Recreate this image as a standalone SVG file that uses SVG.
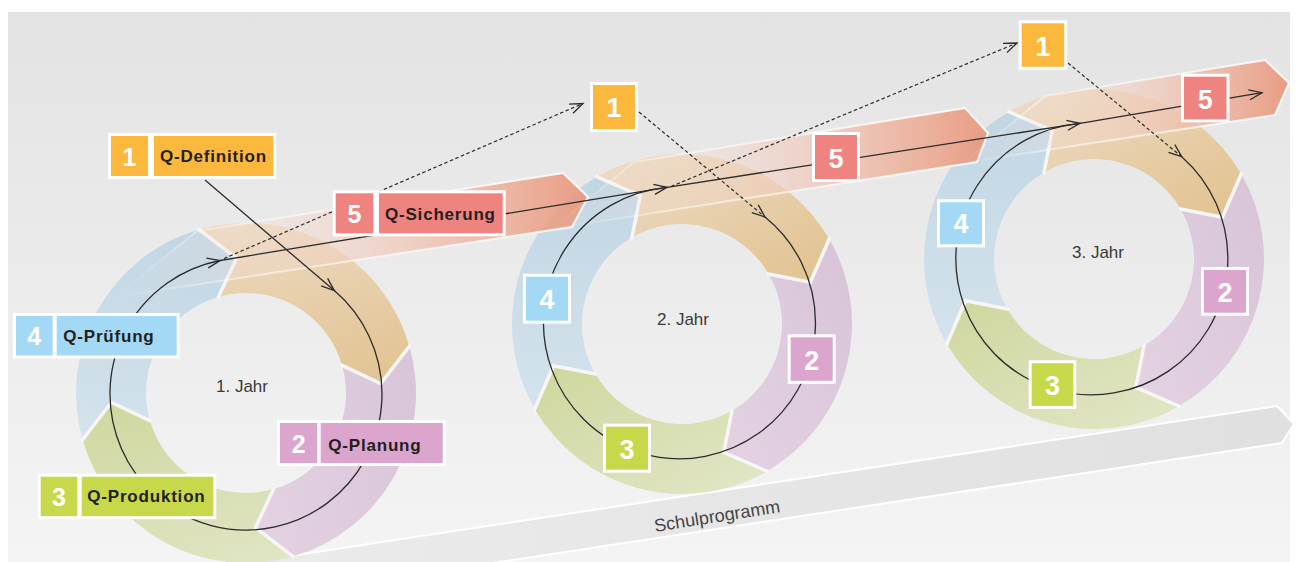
<svg xmlns="http://www.w3.org/2000/svg" xmlns:xlink="http://www.w3.org/1999/xlink" width="1296" height="562" viewBox="0 0 1296 562">
<defs>
<style>
.box{stroke:#ffffff;stroke-width:3}
.y{fill:#fbb83c}.r{fill:#ef837f}.b{fill:#a3d9f5}.p{fill:#dba5cd}.g{fill:#c8d84b}
.lab{font-family:"Liberation Sans",Arial,Helvetica,sans-serif;font-weight:bold;font-size:17px;letter-spacing:0.8px;fill:#231f20}
.dg{font-family:"Liberation Sans",Arial,Helvetica,sans-serif;font-weight:bold;font-size:25px;fill:#ffffff;text-anchor:middle}
.dgb{font-family:"Liberation Sans",Arial,Helvetica,sans-serif;font-weight:bold;font-size:27px;fill:#ffffff;text-anchor:middle}
.yr{font-family:"Liberation Sans",Arial,Helvetica,sans-serif;font-size:17px;fill:#3a3a3a;text-anchor:middle}
.sep{fill:none;stroke:#f6f6f6;stroke-width:3.5;stroke-linecap:square;stroke-linejoin:miter}
.band{stroke-width:2}
</style>
<linearGradient id="bg" x1="0" y1="0" x2="0" y2="1"><stop offset="0" stop-color="#e3e3e3"/><stop offset="1" stop-color="#f4f4f4"/></linearGradient>
<linearGradient id="gO" x1="0" y1="0" x2="1" y2="1"><stop offset="0" stop-color="#ecdcc8"/><stop offset="1" stop-color="#e2c28e"/></linearGradient>
<linearGradient id="gP" x1="1" y1="0" x2="0" y2="1"><stop offset="0" stop-color="#d8c3d7"/><stop offset="1" stop-color="#e4d3e3"/></linearGradient>
<linearGradient id="gG" x1="0" y1="0" x2="1" y2="1"><stop offset="0" stop-color="#cfd79e"/><stop offset="1" stop-color="#e2e6c7"/></linearGradient>
<linearGradient id="gB" x1="0" y1="1" x2="0" y2="0"><stop offset="0" stop-color="#d4e3ec"/><stop offset="1" stop-color="#c1d6e4"/></linearGradient>
<linearGradient id="gS" gradientUnits="userSpaceOnUse" x1="200" y1="0" x2="1294" y2="0"><stop offset="0" stop-color="#ececec"/><stop offset="1" stop-color="#e0e0e0"/></linearGradient>
<linearGradient id="gR1" gradientUnits="userSpaceOnUse" x1="115" y1="0" x2="588" y2="0"><stop offset="0" stop-color="#f6e6e0" stop-opacity="0"/><stop offset="0.3" stop-color="#f4ddd4" stop-opacity="0.3"/><stop offset="0.62" stop-color="#f0c6b6" stop-opacity="0.75"/><stop offset="1" stop-color="#e9967b" stop-opacity="0.92"/></linearGradient>
<linearGradient id="gR2" gradientUnits="userSpaceOnUse" x1="552" y1="0" x2="988" y2="0"><stop offset="0" stop-color="#f6e6e0" stop-opacity="0"/><stop offset="0.3" stop-color="#f4ddd4" stop-opacity="0.3"/><stop offset="0.62" stop-color="#f0c6b6" stop-opacity="0.75"/><stop offset="1" stop-color="#e9967b" stop-opacity="0.92"/></linearGradient>
<linearGradient id="gR3" gradientUnits="userSpaceOnUse" x1="963" y1="0" x2="1289" y2="0"><stop offset="0" stop-color="#f6e6e0" stop-opacity="0"/><stop offset="0.3" stop-color="#f4ddd4" stop-opacity="0.3"/><stop offset="0.62" stop-color="#f0c6b6" stop-opacity="0.75"/><stop offset="1" stop-color="#e9967b" stop-opacity="0.92"/></linearGradient>
<linearGradient id="gW1" gradientUnits="userSpaceOnUse" x1="115" y1="0" x2="588" y2="0"><stop offset="0" stop-color="#ffffff" stop-opacity="0"/><stop offset="0.25" stop-color="#ffffff" stop-opacity="0.45"/><stop offset="1" stop-color="#ffffff" stop-opacity="0.9"/></linearGradient>
<linearGradient id="gW2" gradientUnits="userSpaceOnUse" x1="552" y1="0" x2="988" y2="0"><stop offset="0" stop-color="#ffffff" stop-opacity="0"/><stop offset="0.25" stop-color="#ffffff" stop-opacity="0.45"/><stop offset="1" stop-color="#ffffff" stop-opacity="0.9"/></linearGradient>
<linearGradient id="gW3" gradientUnits="userSpaceOnUse" x1="963" y1="0" x2="1289" y2="0"><stop offset="0" stop-color="#ffffff" stop-opacity="0"/><stop offset="0.25" stop-color="#ffffff" stop-opacity="0.45"/><stop offset="1" stop-color="#ffffff" stop-opacity="0.9"/></linearGradient>
<marker id="ah" viewBox="-15 -8 17 16" refX="0" refY="0" markerWidth="17" markerHeight="16" markerUnits="userSpaceOnUse" orient="auto" overflow="visible">
<path d="M-13,-5 L0,0 L-13,5" fill="none" stroke="#2b2b2b" stroke-width="1.3" stroke-dasharray="none"/>
</marker>
<g id="ring">
<path fill="url(#gO)" d="M-85,-147.22 A170,170 0 0 1 147.22,-85 L128.39,-41.72 L86.6,-50 A100,100 0 0 0 -50,-86.6 L-41.72,-128.39 Z"/>
<path fill="url(#gP)" d="M147.22,-85 A170,170 0 0 1 85,147.22 L41.72,128.39 L50,86.6 A100,100 0 0 0 86.6,-50 L128.39,-41.72 Z"/>
<path fill="url(#gG)" d="M85,147.22 A170,170 0 0 1 -147.22,85 L-128.39,41.72 L-86.6,50 A100,100 0 0 0 50,86.6 L41.72,128.39 Z"/>
<path fill="url(#gB)" d="M-147.22,85 A170,170 0 0 1 -85,-147.22 L-41.72,-128.39 L-50,-86.6 A100,100 0 0 0 -86.6,50 L-128.39,41.72 Z"/>
<path class="sep" d="M-85,-147.22 L-41.72,-128.39 L-50,-86.6 M147.22,-85 L128.39,-41.72 L86.6,-50 M85,147.22 L41.72,128.39 L50,86.6 M-147.22,85 L-128.39,41.72 L-86.6,50"/>
</g>
</defs>

<rect x="0" y="0" width="1296" height="562" fill="#ffffff"/>
<rect id="panel" x="8" y="12" width="1282" height="550" fill="url(#bg)"/>

<g id="schulprogramm">
<polygon points="198,570 1277,406 1294,424 1282,443 440,571" fill="url(#gS)" stroke="#ffffff" stroke-width="2"/>
<text transform="translate(718,522) rotate(-9)" x="0" y="0" text-anchor="middle" style="font-family:'Liberation Sans',Arial,sans-serif;font-size:18px;fill:#444444">Schulprogramm</text>
</g>

<g id="jahr1">
<use xlink:href="#ring" href="#ring" transform="translate(246,393) rotate(14)"/>
<text class="yr" x="242" y="392">1. Jahr</text>
</g>
<g id="jahr2">
<use xlink:href="#ring" href="#ring" transform="translate(682,324)"/>
<text class="yr" x="683" y="325">2. Jahr</text>
</g>
<g id="jahr3">
<use xlink:href="#ring" href="#ring" transform="translate(1094,259)"/>
<text class="yr" x="1098" y="258">3. Jahr</text>
</g>

<g id="band1"><polygon class="band" fill="url(#gR1)" stroke="url(#gW1)" points="197,231 563,173 588,197 572,227 115,297"/></g>
<g id="band2"><polygon class="band" fill="url(#gR2)" stroke="url(#gW2)" points="634,162 965,108 988,133 977,162 552,229"/></g>
<g id="band3"><polygon class="band" fill="url(#gR3)" stroke="url(#gW3)" points="1045,96 1265,60 1289,83 1275,115 963,163"/></g>

<g id="connectors" fill="none" stroke="#2b2b2b" stroke-width="1.3">
<path d="M205,180 L334.3,290.6" marker-end="url(#ah)"/>
<path d="M334.3,290.6 A136,136 0 1 1 220.1,260.5" marker-end="url(#ah)"/>
<path d="M220.1,260.5 L667,187.3" marker-end="url(#ah)"/>
<path d="M765,217 A136,136 0 1 1 667,187.3"/>
<path d="M667,187.3 L1080,123.3" marker-end="url(#ah)"/>
<path d="M1181.7,156.7 A136,136 0 1 1 1080,123.3"/>
<path d="M1080,123.3 L1262,92.7" marker-end="url(#ah)"/>
<g stroke-dasharray="3.5 2.5" stroke-width="1.2">
<path d="M224,258.5 L583,103.5" marker-end="url(#ah)"/>
<path d="M639,112 L765,217" marker-end="url(#ah)"/>
<path d="M671,186.5 L1017,43" marker-end="url(#ah)"/>
<path d="M1068,63 L1181.7,156.7" marker-end="url(#ah)"/>
</g>
</g>

<g id="q-definition">
<rect class="box y" x="109.5" y="134.5" width="40" height="43"/>
<text class="dg" x="129.5" y="165.5">1</text>
<rect class="box y" x="152.5" y="134.5" width="122.3" height="43"/>
<text class="lab" x="160" y="162">Q-Definition</text>
</g>
<g id="q-sicherung">
<rect class="box r" x="334.2" y="191.8" width="40.6" height="43"/>
<text class="dg" x="354.5" y="223.3">5</text>
<rect class="box r" x="377.5" y="191.8" width="126.7" height="43"/>
<text class="lab" x="385" y="220">Q-Sicherung</text>
</g>
<g id="q-pruefung">
<rect class="box b" x="14.5" y="314.5" width="39.7" height="42.5"/>
<text class="dg" x="34.3" y="345">4</text>
<rect class="box b" x="55.2" y="314.5" width="123" height="42.5"/>
<text class="lab" x="63.3" y="341.7">Q-Prüfung</text>
</g>
<g id="q-planung">
<rect class="box p" x="278.5" y="421.5" width="40.3" height="43"/>
<text class="dg" x="298.7" y="452.5">2</text>
<rect class="box p" x="319.2" y="421.5" width="125" height="43"/>
<text class="lab" x="328.3" y="450.5">Q-Planung</text>
</g>
<g id="q-produktion">
<rect class="box g" x="39.2" y="475.2" width="39.6" height="42.5"/>
<text class="dg" x="59" y="506">3</text>
<rect class="box g" x="80.2" y="475.2" width="134.6" height="42.5"/>
<text class="lab" x="87.3" y="501.7">Q-Produktion</text>
</g>

<g id="j2-1"><rect class="box y" x="591.5" y="83.5" width="45" height="47"/><text class="dgb" x="614" y="117">1</text></g>
<g id="j2-5"><rect class="box r" x="813.5" y="133.5" width="45" height="47"/><text class="dgb" x="836" y="167.5">5</text></g>
<g id="j2-4"><rect class="box b" x="524.5" y="275.2" width="45" height="47"/><text class="dgb" x="547" y="309">4</text></g>
<g id="j2-2"><rect class="box p" x="789.2" y="335.8" width="45" height="46.5"/><text class="dgb" x="811.7" y="369.5">2</text></g>
<g id="j2-3"><rect class="box g" x="604.5" y="425.2" width="45" height="46"/><text class="dgb" x="627" y="458.5">3</text></g>
<g id="j3-1"><rect class="box y" x="1020.2" y="21.8" width="45.5" height="46.5"/><text class="dgb" x="1043" y="55.5">1</text></g>
<g id="j3-5"><rect class="box r" x="1182.5" y="75.2" width="45.5" height="45.6"/><text class="dgb" x="1205.3" y="108.5">5</text></g>
<g id="j3-4"><rect class="box b" x="938.5" y="200.8" width="45" height="45"/><text class="dgb" x="961" y="233">4</text></g>
<g id="j3-2"><rect class="box p" x="1202.5" y="268.5" width="45" height="45.7"/><text class="dgb" x="1225" y="301.5">2</text></g>
<g id="j3-3"><rect class="box g" x="1030.2" y="361.8" width="44.6" height="45.7"/><text class="dgb" x="1052.5" y="395">3</text></g>
</svg>
